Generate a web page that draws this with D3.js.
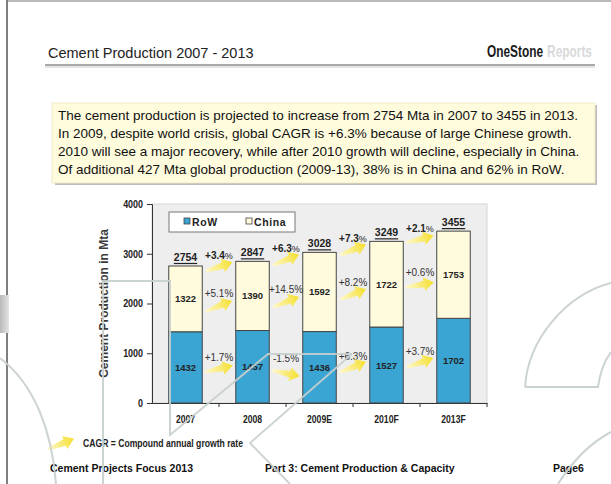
<!DOCTYPE html>
<html>
<head>
<meta charset="utf-8">
<script src="https://cdn.jsdelivr.net/npm/d3@7"></script>
<style>
  body { margin: 0; background: #fff; }
  svg { display: block; font-family: "Liberation Sans", Arial, sans-serif; }
</style>
</head>
<body>
<div id="vis"></div>
<script>
// chart data
const categories = ["2007", "2008", "2009E", "2010F", "2013F"];
const rowValues = [1432, 1457, 1436, 1527, 1702];
const chinaValues = [1322, 1390, 1592, 1722, 1753];
const totalGrowth = [3.4, 6.3, 7.3, 2.1];
const chinaGrowth = [5.1, 14.5, 8.2, 0.6];
const rowGrowth = [1.7, -1.5, 6.3, 3.7];
const yTicks = [0, 1000, 2000, 3000, 4000];
const seriesNames = ["RoW", "China"];

const summaryLines = [
  "The cement production is projected to increase from 2754 Mta in 2007 to 3455 in 2013.",
  "In 2009, despite world crisis, global CAGR is +6.3% because of large Chinese growth.",
  "2010 will see a major recovery, while after 2010 growth will decline, especially in China.",
  "Of additional 427 Mta global production (2009-13), 38% is in China and 62% in RoW."
];

const W = 611, H = 484;
const colors = { row: "#3AA4D2", china: "#FFFBDC" };

// no condensed font installed: squeeze glyphs horizontally instead
function squeeze(sel, f) {
  sel.each(function () {
    const w = this.getComputedTextLength();
    d3.select(this).attr("textLength", w * f).attr("lengthAdjust", "spacingAndGlyphs");
  });
}

const svg = d3.select("#vis").append("svg")
  .attr("width", W)
  .attr("height", H);

const defs = svg.append("defs");
const ag = defs.append("linearGradient").attr("id", "arrowGrad");
ag.append("stop").attr("offset", "0%").attr("stop-color", "#FFF8CC");
ag.append("stop").attr("offset", "100%").attr("stop-color", "#F4DF2C");
const sg = defs.append("linearGradient").attr("id", "sideGrad");
sg.append("stop").attr("offset", "0%").attr("stop-color", "#B9B9B9");
sg.append("stop").attr("offset", "100%").attr("stop-color", "#E4E4E4");

// page frame
svg.append("rect").attr("x", 0).attr("y", 0).attr("width", W).attr("height", H).attr("fill", "#fff");
svg.append("line").attr("x1", 7).attr("x2", 7).attr("y1", 0).attr("y2", H)
  .attr("stroke", "#555").attr("stroke-width", 1.5);
svg.append("line").attr("x1", 7).attr("x2", W).attr("y1", 1).attr("y2", 1)
  .attr("stroke", "#777").attr("stroke-width", 1);
svg.append("rect").attr("x", 0).attr("y", 295).attr("width", 9).attr("height", 38)
  .attr("fill", "url(#sideGrad)");

// header
svg.append("text")
  .attr("x", 48).attr("y", 58)
  .attr("font-size", 14.5).attr("fill", "#222")
  .text("Cement Production 2007 - 2013");

// brand: two words squeezed with a scale transform, laid out from the right edge
const brandRight = 592, brandGap = 4, brandSqueeze = 0.72;
const brandWords = [
  { t: "OneStone", fill: "#1a1a1a" },
  { t: "Reports", fill: "#D9D9D9" }
];
const brandG = brandWords.map(b => {
  const g = svg.append("g");
  const t = g.append("text")
    .attr("x", 0).attr("y", 0)
    .attr("font-size", 16.5).attr("font-weight", "bold").attr("fill", b.fill)
    .text(b.t);
  return { g, w: t.node().getComputedTextLength() * brandSqueeze };
});
let bx = brandRight;
for (let i = brandG.length - 1; i >= 0; i--) {
  bx -= brandG[i].w;
  brandG[i].g.attr("transform", `translate(${bx},57) scale(${brandSqueeze},1)`);
  bx -= brandGap;
}

svg.append("line").attr("x1", 45).attr("x2", 595).attr("y1", 65).attr("y2", 65)
  .attr("stroke", "#555").attr("stroke-width", 1);
svg.append("line").attr("x1", 45).attr("x2", 595).attr("y1", 67).attr("y2", 67)
  .attr("stroke", "#ddd").attr("stroke-width", 1.5);

// summary box
svg.append("rect").attr("x", 55).attr("y", 105).attr("width", 542).attr("height", 80)
  .attr("fill", "#BDBDBD");
svg.append("rect").attr("x", 52).attr("y", 103).attr("width", 543).attr("height", 80)
  .attr("fill", "#FFFCDD").attr("stroke", "#EDE6C4").attr("stroke-width", 0.8);
svg.append("g").selectAll("text")
  .data(summaryLines)
  .join("text")
  .attr("x", 58)
  .attr("y", (d, i) => 120 + i * 18)
  .attr("font-size", 13.5)
  .attr("fill", "#111")
  .text(d => d);

// chart
const plot = { left: 152, right: 487, top: 204, bottom: 403 };

const x = d3.scaleBand()
  .domain(categories)
  .range([plot.left, plot.right])
  .paddingInner(0.5)
  .paddingOuter(0.25);

const y = d3.scaleLinear()
  .domain([0, 4000])
  .range([plot.bottom, plot.top]);

const data = categories.map((c, i) => ({
  cat: c,
  row: rowValues[i],
  china: chinaValues[i],
  total: rowValues[i] + chinaValues[i]
}));

svg.append("rect")
  .attr("x", plot.left).attr("y", plot.top)
  .attr("width", plot.right - plot.left).attr("height", plot.bottom - plot.top)
  .attr("fill", "#EFEEEE").attr("stroke", "#D6D6D6");

// y axis
const yAxis = svg.append("g")
  .attr("transform", `translate(${plot.left},0)`)
  .call(d3.axisLeft(y).tickValues(yTicks).tickSize(5).tickPadding(4).tickFormat(d3.format("d")));
yAxis.select(".domain").attr("stroke", "#333");
yAxis.selectAll(".tick line").attr("stroke", "#333");
yAxis.selectAll("text")
  .attr("font-size", 10.5).attr("font-weight", "bold").attr("fill", "#222")
  .attr("font-family", "\"Liberation Sans\", Arial, sans-serif")
  .call(squeeze, 0.85);

// x axis with ticks on band boundaries
const xAxis = svg.append("g")
  .attr("transform", `translate(0,${plot.bottom})`)
  .call(d3.axisBottom(x).tickSize(0).tickPadding(13));
xAxis.select(".domain").attr("stroke", "#333");
xAxis.selectAll("text")
  .attr("font-size", 10.5).attr("font-weight", "bold").attr("fill", "#222")
  .attr("font-family", "\"Liberation Sans\", Arial, sans-serif")
  .call(squeeze, 0.82);
const step = x.step();
xAxis.selectAll(".bound")
  .data(categories)
  .join("line")
  .attr("class", "bound")
  .attr("x1", d => x(d) + x.bandwidth() / 2 + step / 2)
  .attr("x2", d => x(d) + x.bandwidth() / 2 + step / 2)
  .attr("y1", 0).attr("y2", 4)
  .attr("stroke", "#333");

svg.append("text")
  .attr("transform", `translate(108,${(plot.top + plot.bottom) / 2}) rotate(-90)`)
  .attr("text-anchor", "middle")
  .attr("font-size", 12).attr("font-weight", "bold").attr("fill", "#3a3a3a")
  .text("Cement Production in Mta");

// bars
const bars = svg.append("g").selectAll("g")
  .data(data)
  .join("g");

bars.append("rect")
  .attr("x", d => x(d.cat))
  .attr("width", x.bandwidth())
  .attr("y", d => y(d.row))
  .attr("height", d => y(0) - y(d.row))
  .attr("fill", colors.row)
  .attr("stroke", "#444");

bars.append("rect")
  .attr("x", d => x(d.cat))
  .attr("width", x.bandwidth())
  .attr("y", d => y(d.total))
  .attr("height", d => y(d.row) - y(d.total))
  .attr("fill", colors.china)
  .attr("stroke", "#444");

bars.append("text")
  .attr("x", d => x(d.cat) + x.bandwidth() / 2)
  .attr("y", d => y(d.row / 2) + 3.5)
  .attr("text-anchor", "middle")
  .attr("font-size", 9.5).attr("font-weight", "bold").attr("fill", "#222")
  .text(d => d.row);

bars.append("text")
  .attr("x", d => x(d.cat) + x.bandwidth() / 2)
  .attr("y", d => y(d.row + d.china / 2) + 3.5)
  .attr("text-anchor", "middle")
  .attr("font-size", 9.5).attr("font-weight", "bold").attr("fill", "#222")
  .text(d => d.china);

const totals = bars.append("text")
  .attr("x", d => x(d.cat) + x.bandwidth() / 2)
  .attr("y", d => y(d.total) - 5)
  .attr("text-anchor", "middle")
  .attr("font-size", 10.5).attr("font-weight", "bold").attr("fill", "#222")
  .text(d => d.total);
totals.each(function (d) {
  const w = this.getComputedTextLength();
  const cx = x(d.cat) + x.bandwidth() / 2;
  d3.select(this.parentNode).append("line")
    .attr("x1", cx - w / 2).attr("x2", cx + w / 2)
    .attr("y1", y(d.total) - 2.5).attr("y2", y(d.total) - 2.5)
    .attr("stroke", "#222").attr("stroke-width", 1.2);
});

// growth arrows and labels
function arrow(g, cx, cy, growth) {
  const angle = growth < 0 ? 12 : -Math.min(22, 8 + growth * 3);
  g.append("path")
    .attr("d", "M-14,-1.4 L4,-3.4 L4,-7 L14,0 L4,7 L4,3.4 L-14,1.4 Z")
    .attr("transform", `translate(${cx},${cy}) rotate(${angle})`)
    .attr("fill", "url(#arrowGrad)");
}
const fmt = v => (v > 0 ? "+" : "") + v.toFixed(1);
const boundary = i => (x(categories[i]) + x.bandwidth() + x(categories[i + 1])) / 2;

const growthG = svg.append("g");

totalGrowth.forEach((v, i) => {
  const cx = boundary(i);
  const ly = (y(data[i].total) + y(data[i + 1].total)) / 2 - 8;
  const t = growthG.append("text")
    .attr("x", cx).attr("y", ly + 3.5)
    .attr("text-anchor", "middle")
    .attr("font-size", 10).attr("fill", "#222");
  t.append("tspan").attr("font-weight", "bold").text(fmt(v));
  t.append("tspan").attr("font-size", 9).text("%");
  arrow(growthG, cx, ly + 11, v);
});

chinaGrowth.forEach((v, i) => {
  const cx = boundary(i);
  const d = data[i + 1];
  const ly = y(d.row + d.china / 2) - 2;
  growthG.append("text")
    .attr("x", cx).attr("y", ly + 3.5)
    .attr("text-anchor", "middle")
    .attr("font-size", 10).attr("fill", "#333")
    .text(fmt(v) + "%");
  arrow(growthG, cx, ly + 12, v);
});

rowGrowth.forEach((v, i) => {
  const cx = boundary(i);
  const d = data[i + 1];
  const ly = y(d.row / 2) - 9;
  growthG.append("text")
    .attr("x", cx).attr("y", ly + 3.5)
    .attr("text-anchor", "middle")
    .attr("font-size", 10).attr("fill", "#333")
    .text(fmt(v) + "%");
  arrow(growthG, cx, ly + (v < 0 ? 15 : 11), v);
});

// legend
const lg = svg.append("g");
lg.append("rect").attr("x", 169).attr("y", 212).attr("width", 126).attr("height", 20)
  .attr("fill", "#fff").attr("stroke", "#777");
const legendItems = [
  { name: seriesNames[0], color: colors.row, x: 184 },
  { name: seriesNames[1], color: colors.china, x: 246 }
];
lg.selectAll("rect.sw").data(legendItems).join("rect").attr("class", "sw")
  .attr("x", d => d.x).attr("y", 218).attr("width", 6).attr("height", 6)
  .attr("fill", d => d.color).attr("stroke", "#444").attr("stroke-width", 0.8);
lg.selectAll("text").data(legendItems).join("text")
  .attr("x", d => d.x + 8).attr("y", 225.5)
  .attr("font-size", 10.5).attr("font-weight", "bold").attr("fill", "#222")
  .attr("letter-spacing", 0.6)
  .text(d => d.name);

// CAGR note
arrow(svg, 61, 444, 5);
const note = svg.append("text")
  .attr("x", 83).attr("y", 447)
  .attr("font-size", 10.5).attr("font-weight", "bold").attr("fill", "#222")
  .text("CAGR = Compound annual growth rate");
squeeze(note, 0.82);

// footer
const footer = [
  { x: 50, t: "Cement Projects Focus 2013" },
  { x: 265, t: "Part 3: Cement Production & Capacity" },
  { x: 553, t: "Page6" }
];
svg.append("g").selectAll("text").data(footer).join("text")
  .attr("x", d => d.x).attr("y", 472)
  .attr("font-size", 10.5).attr("font-weight", "bold").attr("fill", "#111")
  .text(d => d.t);

// background decoration lines of the slide, drawn over the chart
const deco = [
  "M103,484 L103,281 L170,281 L170,435 L268,354 L352,354",
  "M290,484 L250,443 L352,354",
  "M0,358 C34,384 52,430 56,484",
  "M525,387 C528,340 565,295 611,283",
  "M525,387 L598,387 C600,372 605,360 611,352",
  "M558,484 C572,462 590,443 611,432"
];
svg.append("g").selectAll("path").data(deco).join("path")
  .attr("d", d => d)
  .attr("fill", "none")
  .attr("stroke", "#C6CFCD")
  .attr("stroke-width", 2)
  .attr("opacity", 0.9);
</script>
</body>
</html>
